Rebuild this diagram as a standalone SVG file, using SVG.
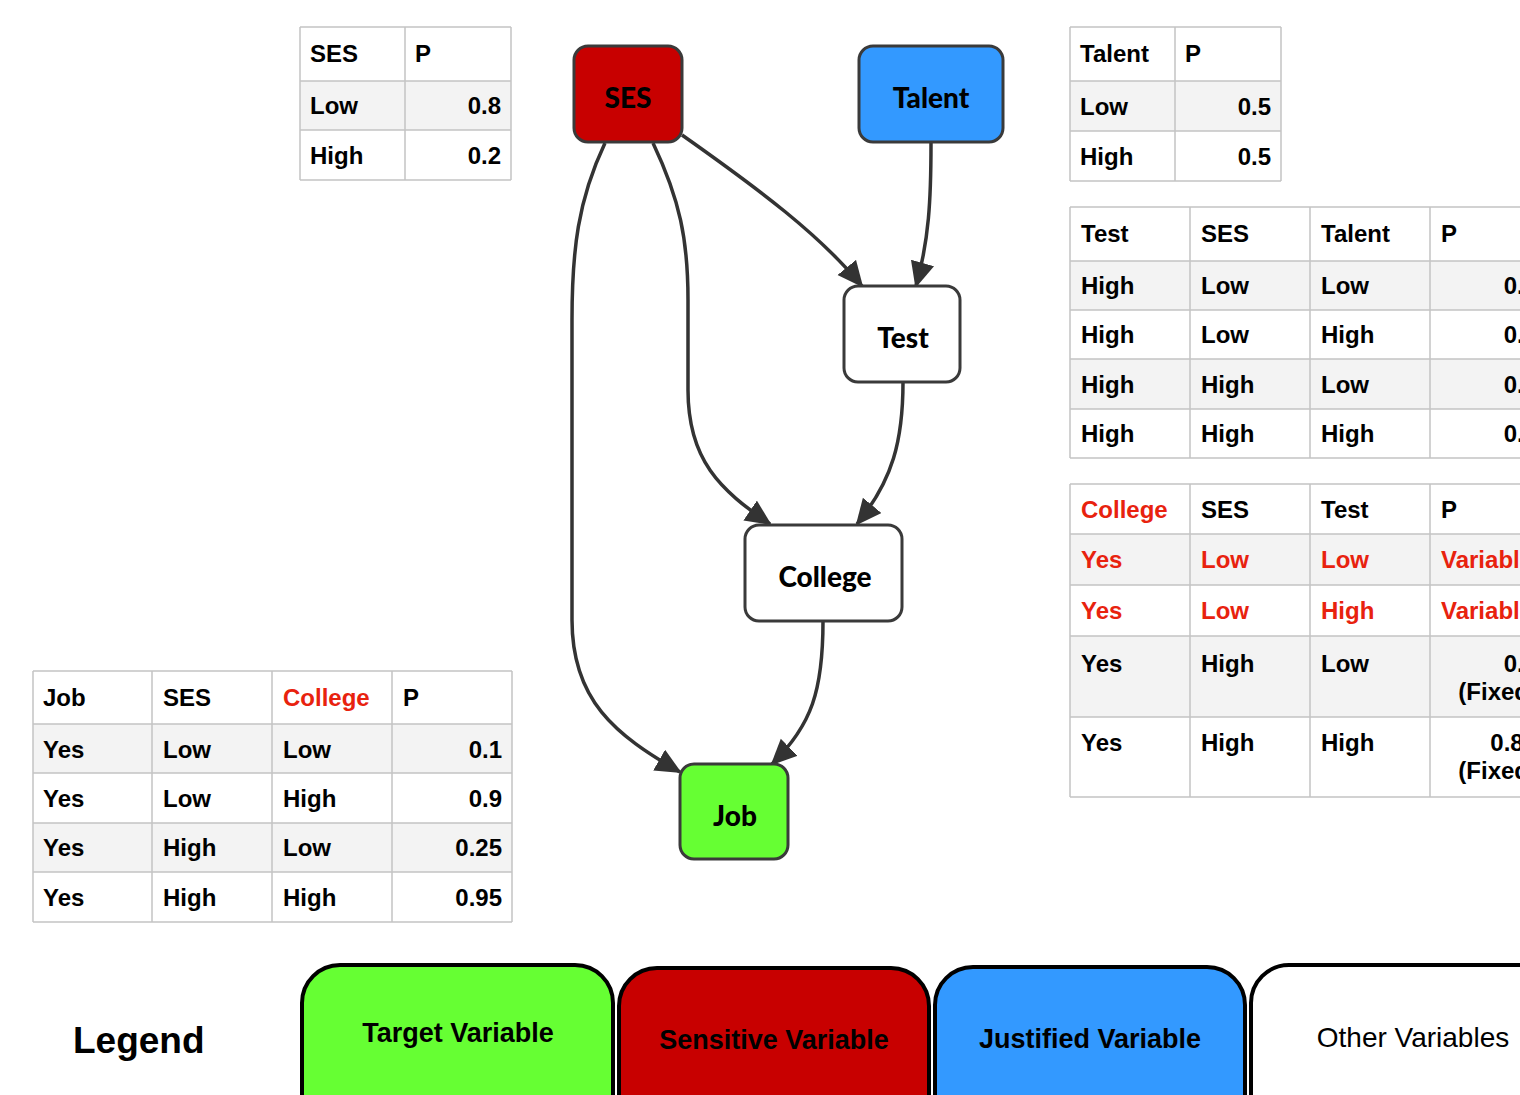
<svg xmlns="http://www.w3.org/2000/svg" width="1520" height="1095" viewBox="0 0 1520 1095">
<defs>
<style>
.t{font-family:"Liberation Sans",Arial,sans-serif;font-weight:bold;font-size:24px;fill:#000}
.r{text-anchor:end}
.red{fill:#e8220e}
.g{fill:#f3f3f3}
.ln{stroke:#c4c4c4;stroke-width:1.5;fill:none}
.node{stroke:#3a3a3a;stroke-width:3}
.nl{font-family:Lato,"Open Sans",sans-serif;font-weight:900;font-size:28px;text-anchor:middle;fill:#000}
.edge{fill:none;stroke:#333;stroke-width:3.5}
.leg{stroke:#000;stroke-width:4}
.lt{font-family:"Liberation Sans",Arial,sans-serif;font-size:27px;text-anchor:middle;fill:#000}
</style>
<marker id="ah" markerUnits="userSpaceOnUse" markerWidth="28" markerHeight="26" refX="24" refY="12" orient="auto">
<path d="M0,0 L26,12 L0,24 Z" fill="#333"/>
</marker>
</defs>
<rect width="1520" height="1095" fill="#fff"/>

<!-- SES table -->
<g id="table-ses">
<rect class="g" x="300" y="81" width="211" height="49"/>
<path class="ln" d="M300,27H511M300,81H511M300,130H511M300,180H511M300,27V180M405,27V180M511,27V180"/>
<text class="t" x="310" y="62">SES</text><text class="t" x="415" y="62">P</text>
<text class="t" x="310" y="114">Low</text><text class="t r" x="501" y="114">0.8</text>
<text class="t" x="310" y="164">High</text><text class="t r" x="501" y="164">0.2</text>
</g>

<!-- Talent table -->
<g id="table-talent">
<rect class="g" x="1070" y="81" width="211" height="50"/>
<path class="ln" d="M1070,27H1281M1070,81H1281M1070,131H1281M1070,181H1281M1070,27V181M1175,27V181M1281,27V181"/>
<text class="t" x="1080" y="62">Talent</text><text class="t" x="1185" y="62">P</text>
<text class="t" x="1080" y="115">Low</text><text class="t r" x="1271" y="115">0.5</text>
<text class="t" x="1080" y="165">High</text><text class="t r" x="1271" y="165">0.5</text>
</g>

<!-- Test table -->
<g id="table-test">
<rect class="g" x="1070" y="261" width="480" height="49"/>
<rect class="g" x="1070" y="359" width="480" height="50"/>
<path class="ln" d="M1070,207H1550M1070,261H1550M1070,310H1550M1070,359H1550M1070,409H1550M1070,458H1550M1070,207V458M1190,207V458M1310,207V458M1430,207V458"/>
<text class="t" x="1081" y="242">Test</text><text class="t" x="1201" y="242">SES</text><text class="t" x="1321" y="242">Talent</text><text class="t" x="1441" y="242">P</text>
<text class="t" x="1081" y="294">High</text><text class="t" x="1201" y="294">Low</text><text class="t" x="1321" y="294">Low</text><text class="t r" x="1537" y="294">0.1</text>
<text class="t" x="1081" y="343">High</text><text class="t" x="1201" y="343">Low</text><text class="t" x="1321" y="343">High</text><text class="t r" x="1537" y="343">0.1</text>
<text class="t" x="1081" y="393">High</text><text class="t" x="1201" y="393">High</text><text class="t" x="1321" y="393">Low</text><text class="t r" x="1537" y="393">0.2</text>
<text class="t" x="1081" y="442">High</text><text class="t" x="1201" y="442">High</text><text class="t" x="1321" y="442">High</text><text class="t r" x="1537" y="442">0.9</text>
</g>

<!-- College table -->
<g id="table-college">
<rect class="g" x="1070" y="534" width="480" height="51"/>
<rect class="g" x="1070" y="636" width="480" height="81"/>
<path class="ln" d="M1070,484H1550M1070,534H1550M1070,585H1550M1070,636H1550M1070,717H1550M1070,797H1550M1070,484V797M1190,484V797M1310,484V797M1430,484V797"/>
<text class="t red" x="1081" y="518">College</text><text class="t" x="1201" y="518">SES</text><text class="t" x="1321" y="518">Test</text><text class="t" x="1441" y="518">P</text>
<text class="t red" x="1081" y="568">Yes</text><text class="t red" x="1201" y="568">Low</text><text class="t red" x="1321" y="568">Low</text><text class="t red" x="1441" y="568">Variable</text>
<text class="t red" x="1081" y="619">Yes</text><text class="t red" x="1201" y="619">Low</text><text class="t red" x="1321" y="619">High</text><text class="t red" x="1441" y="619">Variable</text>
<text class="t" x="1081" y="672">Yes</text><text class="t" x="1201" y="672">High</text><text class="t" x="1321" y="672">Low</text><text class="t r" x="1537" y="672">0.3</text><text class="t r" x="1537" y="700">(Fixed)</text>
<text class="t" x="1081" y="751">Yes</text><text class="t" x="1201" y="751">High</text><text class="t" x="1321" y="751">High</text><text class="t r" x="1537" y="751">0.85</text><text class="t r" x="1537" y="779">(Fixed)</text>
</g>

<!-- Job table -->
<g id="table-job">
<rect class="g" x="33" y="724" width="479" height="49"/>
<rect class="g" x="33" y="823" width="479" height="49"/>
<path class="ln" d="M33,671H512M33,724H512M33,773H512M33,823H512M33,872H512M33,922H512M33,671V922M152,671V922M272,671V922M392,671V922M512,671V922"/>
<text class="t" x="43" y="706">Job</text><text class="t" x="163" y="706">SES</text><text class="t red" x="283" y="706">College</text><text class="t" x="403" y="706">P</text>
<text class="t" x="43" y="758">Yes</text><text class="t" x="163" y="758">Low</text><text class="t" x="283" y="758">Low</text><text class="t r" x="502" y="758">0.1</text>
<text class="t" x="43" y="807">Yes</text><text class="t" x="163" y="807">Low</text><text class="t" x="283" y="807">High</text><text class="t r" x="502" y="807">0.9</text>
<text class="t" x="43" y="856">Yes</text><text class="t" x="163" y="856">High</text><text class="t" x="283" y="856">Low</text><text class="t r" x="502" y="856">0.25</text>
<text class="t" x="43" y="906">Yes</text><text class="t" x="163" y="906">High</text><text class="t" x="283" y="906">High</text><text class="t r" x="502" y="906">0.95</text>
</g>

<!-- connectors -->
<g id="connectors">
<path class="edge" marker-end="url(#ah)" d="M605,143 C578,200 572,250 572,320 L572,620 C572,700 615,735 680,772"/>
<path class="edge" marker-end="url(#ah)" d="M653,143 C680,200 688,240 688,300 L688,390 C688,460 720,490 770,524"/>
<path class="edge" marker-end="url(#ah)" d="M682,135 C760,190 820,235 862,286"/>
<path class="edge" marker-end="url(#ah)" d="M931,143 C931,200 929,240 916,286"/>
<path class="edge" marker-end="url(#ah)" d="M903,382 C903,440 893,480 857,524"/>
<path class="edge" marker-end="url(#ah)" d="M823,621 C823,690 812,725 772,764"/>
</g>

<!-- nodes -->
<g id="node-ses"><rect class="node" x="574" y="46" width="108" height="96" rx="14" fill="#c80000"/><text class="nl" x="628" y="108">SES</text></g>
<g id="node-talent"><rect class="node" x="859" y="46" width="144" height="96" rx="14" fill="#3399ff"/><text class="nl" x="931" y="108">Talent</text></g>
<g id="node-test"><rect class="node" x="844" y="286" width="116" height="96" rx="14" fill="#fff"/><text class="nl" x="903" y="348">Test</text></g>
<g id="node-college"><rect class="node" x="745" y="525" width="157" height="96" rx="14" fill="#fff"/><text class="nl" x="825" y="587">College</text></g>
<g id="node-job"><rect class="node" x="680" y="764" width="108" height="95" rx="14" fill="#66ff33"/><text class="nl" x="735" y="826">Job</text></g>

<!-- legend -->
<g id="legend">
<text x="73" y="1053" style="font-family:'Liberation Sans',Arial,sans-serif;font-weight:bold;font-size:37px">Legend</text>
<g id="legend-target"><rect class="leg" x="302" y="965" width="311" height="170" rx="38" fill="#66ff33"/><text class="lt" x="458" y="1042" font-weight="bold">Target Variable</text></g>
<g id="legend-sensitive"><rect class="leg" x="619" y="968" width="310" height="170" rx="38" fill="#c80000"/><text class="lt" x="774" y="1049" font-weight="bold">Sensitive Variable</text></g>
<g id="legend-justified"><rect class="leg" x="935" y="967" width="310" height="170" rx="38" fill="#3399ff"/><text class="lt" x="1090" y="1048" font-weight="bold">Justified Variable</text></g>
<g id="legend-other"><rect class="leg" x="1251" y="965" width="310" height="170" rx="38" fill="#fff"/><text class="lt" x="1413" y="1047" style="font-size:28px">Other Variables</text></g>
</g>
</svg>
